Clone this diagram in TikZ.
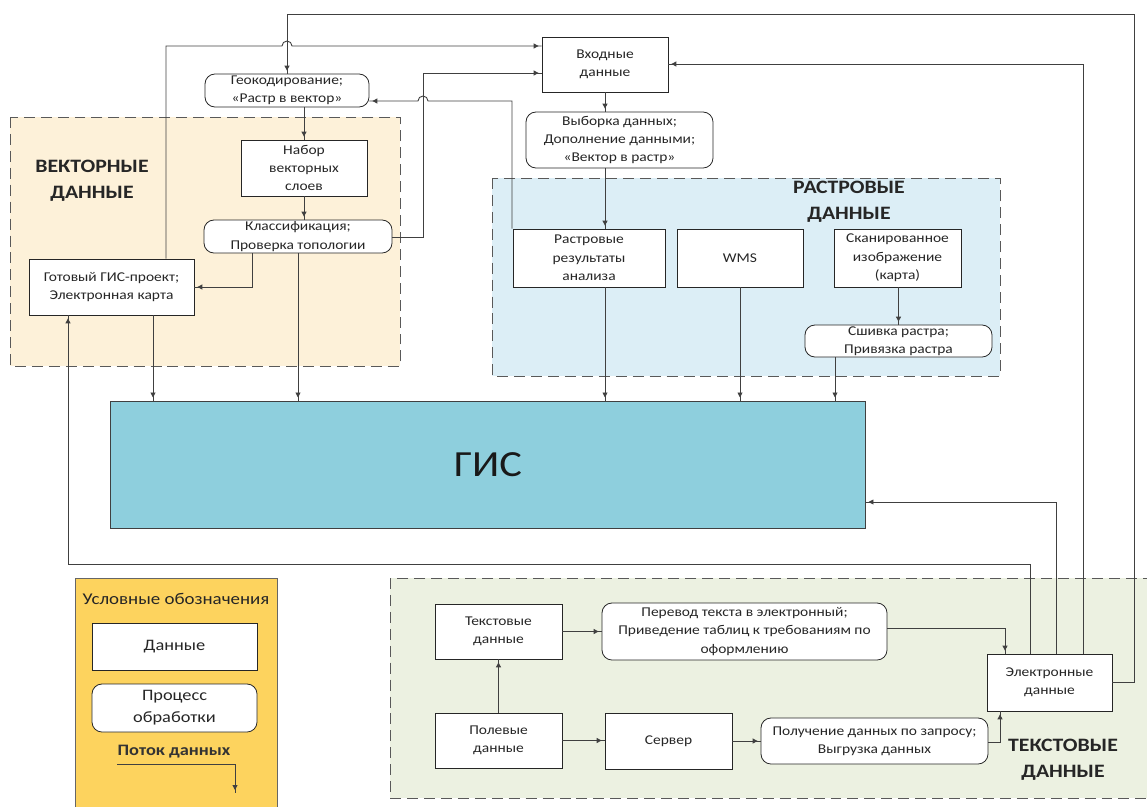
\documentclass[tikz,border=0pt]{standalone}
\usepackage{fontspec}
\setmainfont{Carlito}[FakeStretch=1.15]
\usetikzlibrary{arrows.meta,decorations.markings}
\definecolor{vecfill}{HTML}{FDF1D9}
\definecolor{rasfill}{HTML}{DCEEF6}
\definecolor{txtfill}{HTML}{ECF1E1}
\definecolor{gisfill}{HTML}{8ECFDD}
\definecolor{legfill}{HTML}{FDD35E}
\definecolor{lncol}{HTML}{404040}
\tikzset{
  databox/.style={draw=black!85, fill=white, line width=0.8pt, align=center, inner sep=1pt,
    font=\fontsize{13.5}{18.5}\selectfont, text=black!85},
  procbox/.style={databox, rounded corners=10pt},
  grp/.style={draw=black!65, line width=1pt, dash pattern=on 11pt off 6pt},
  ln/.style={draw=lncol, line width=0.9pt},
  arr/.style={ln, postaction={decorate}, decoration={markings,
    mark=at position -3pt with {\arrow{Triangle[length=5pt,width=5pt]}}}},
  biglab/.style={font=\fontsize{19}{26}\selectfont\bfseries, align=center, text=black!85}
}
\begin{document}
\begin{tikzpicture}[x=1bp,y=-1bp]
\useasboundingbox (0,0) rectangle (1147,807);
% groups
\path[grp, fill=vecfill] (10,117) rectangle (400,366);
\path[grp, fill=rasfill] (492,178) rectangle (1000,376);
\path[grp, fill=txtfill] (390,578) rectangle (1170,798);
\node[biglab] (veclab) at (92,181) {ВЕКТОРНЫЕ\\ДАННЫЕ};
\node[biglab] (raslab) at (849,202) {РАСТРОВЫЕ\\ДАННЫЕ};
\node[biglab] (txtlab) at (1063,760) {ТЕКСТОВЫЕ\\ДАННЫЕ};
% legend
\path[draw=black!60, line width=0.8pt, fill=legfill] (75,578) rectangle (277,815);
\node[font=\fontsize{16.5}{19}\selectfont, text=black!85] (legt) at (176,599) {Условные обозначения};
\node[databox, minimum width=165bp, minimum height=47bp, font=\fontsize{16}{20}\selectfont] (ldata) at (174.5,646.5) {Данные};
\node[procbox, minimum width=165bp, minimum height=48bp, font=\fontsize{16}{22}\selectfont] (lproc) at (174.5,708) {Процесс\\обработки};
\node[font=\fontsize{16}{18}\selectfont\bfseries, text=black!80, inner sep=0pt] (lflow) at (174,752) {Поток данных};
\coordinate (lf1) at (117,764);
\coordinate (lf2) at (235,764);
\coordinate (lf3) at (235,793);
\draw[ln] (lf1) -- (lf2);
\draw[arr] (lf2) -- (lf3);
% vector nodes
\node[procbox, minimum width=164bp, minimum height=33bp] (geo) at (287,90.5) {Геокодирование;\\«Растр в вектор»};
\node[databox, minimum width=126bp, minimum height=56bp] (nabor) at (304,168) {Набор\\векторных\\слоев};
\node[procbox, minimum width=188bp, minimum height=33bp] (klass) at (298,236.5) {Классификация;\\Проверка топологии};
\node[databox, minimum width=165bp, minimum height=56bp] (gotov) at (111.5,287) {Готовый ГИС-проект;\\Электронная карта};
% top nodes
\node[databox, minimum width=126bp, minimum height=55bp] (vhod) at (605,64.5) {Входные\\данные};
\node[procbox, minimum width=187bp, minimum height=56bp] (vyb) at (619.5,140) {Выборка данных;\\Дополнение данными;\\«Вектор в растр»};
% raster nodes
\node[databox, minimum width=152bp, minimum height=58bp] (rres) at (589,258) {Растровые\\результаты\\анализа};
\node[databox, minimum width=126bp, minimum height=58bp] (wms) at (740,258) {WMS};
\node[databox, minimum width=127bp, minimum height=58bp] (scan) at (897.5,258) {Сканированное\\изображение\\(карта)};
\node[procbox, minimum width=187bp, minimum height=32bp] (shiv) at (898.5,341) {Сшивка растра;\\Привязка растра};
% GIS
\node[draw=black!75, line width=1pt, fill=gisfill, minimum width=754bp, minimum height=127bp,
  font=\fontsize{37}{40}\selectfont, text=black!90] (gis) at (488,464.5) {ГИС};
% text nodes
\node[databox, minimum width=127bp, minimum height=55bp] (texd) at (498.5,631.5) {Текстовые\\данные};
\node[procbox, minimum width=285bp, minimum height=57bp] (perev) at (744.5,631.5) {Перевод текста в электронный;\\Приведение таблиц к требованиям по\\оформлению};
\node[databox, minimum width=127bp, minimum height=55bp] (poll) at (498.5,740.5) {Полевые\\данные};
\node[databox, minimum width=127bp, minimum height=56bp] (serv) at (668.5,741) {Сервер};
\node[procbox, minimum width=227bp, minimum height=46bp] (poluch) at (874.5,741) {Получение данных по запросу;\\Выгрузка данных};
\node[databox, minimum width=125bp, minimum height=57bp] (ed) at (1049.5,682.5) {Электронные\\данные};
% bend coordinates
\coordinate (b1) at (1030,564);
\coordinate (b1e) at (68,564);
\coordinate (b2) at (1056,502);
\coordinate (b3) at (1083,64);
\coordinate (b4a) at (1134,682);
\coordinate (b4b) at (1134,14);
\coordinate (b4c) at (287,14);
\coordinate (b5) at (166,46);
\coordinate (h5a) at (282,46);
\coordinate (b6a) at (423,237);
\coordinate (b6b) at (423,73);
\coordinate (b7) at (512,101);
\coordinate (h7a) at (428,101);
\coordinate (b13) at (252,287);
\coordinate (b21) at (1005,628);
\coordinate (b24) at (1000,742);
% connectors
\draw[arr] (ed.north -| b1) -- (b1) -- (b1e) -- (gotov.south -| b1e);
\draw[arr] (ed.north -| b2) -- (b2) -- (gis.east |- b2);
\draw[arr] (ed.north -| b3) -- (b3) -- (vhod.east |- b3);
\draw[arr] (ed.east |- b4a) -- (b4a) -- (b4b) -- (b4c) -- (geo.north -| b4c);
\draw[arr] (gotov.north -| b5) -- (b5) -- (h5a) arc[start angle=180, end angle=360, radius=5] -- (vhod.west |- b5);
\draw[arr] (klass.east |- b6a) -- (b6a) -- (b6b) -- (vhod.west |- b6b);
\draw[arr] (rres.north -| b7) -- (b7) -- (h7a) arc[start angle=0, end angle=-180, radius=5] -- (geo.east |- b7);
\draw[arr] (vhod.south) -- (vhod.south |- vyb.north);
\draw[arr] (vyb.south -| vhod.south) -- (rres.north -| vhod.south);
\draw[arr] (geo.south -| nabor.north) -- (nabor.north);
\draw[arr] (nabor.south) -- (klass.north -| nabor.south);
\draw[arr] (klass.south) -- (gis.north -| klass.south);
\draw[arr] (klass.south -| b13) -- (b13) -- (gotov.east |- b13);
\draw[arr] (gotov.south -| 153,0) -- (gis.north -| 153,0);
\draw[arr] (rres.south -| vhod.south) -- (gis.north -| vhod.south);
\draw[arr] (wms.south) -- (gis.north -| wms.south);
\draw[arr] (scan.south -| shiv.north) -- (shiv.north);
\draw[arr] (shiv.south -| 835,0) -- (gis.north -| 835,0);
\draw[arr] (poll.north) -- (texd.south);
\draw[arr] (texd.east) -- (perev.west |- texd.east);
\draw[arr] (perev.east |- b21) -- (b21) -- (ed.north -| b21);
\draw[arr] (poll.east) -- (serv.west |- poll.east);
\draw[arr] (serv.east) -- (poluch.west |- serv.east);
\draw[arr] (poluch.east |- b24) -- (b24) -- (ed.south -| b24);
\end{tikzpicture}
\end{document}
